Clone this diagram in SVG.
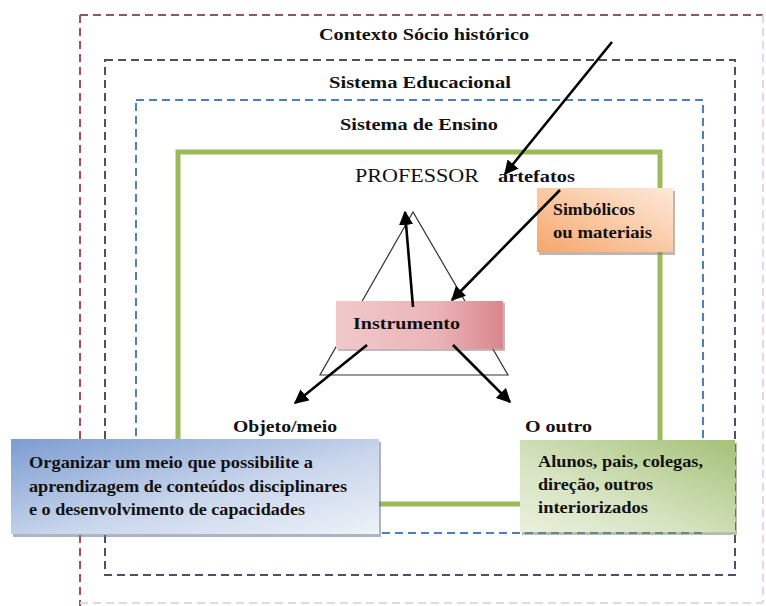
<svg xmlns="http://www.w3.org/2000/svg" width="766" height="606" viewBox="0 0 766 606">
<defs>
<style>
.t{font-family:"Liberation Serif","Times New Roman",serif;fill:#111;}
.b{font-weight:bold;}
.frame{fill:none;stroke-width:2;stroke-dasharray:8 5;}
.arrow{stroke:#000;stroke-width:2.6;fill:none;marker-end:url(#ah);}
.tri{fill:none;stroke:#333;stroke-width:1.2;}
</style>
<marker id="ah" viewBox="0 0 10 10" refX="9" refY="5" markerWidth="5.5" markerHeight="5.5" orient="auto" markerUnits="strokeWidth">
<path d="M0,0 L10,5 L0,10 z" fill="#000"/>
</marker>
<linearGradient id="gBlue" x1="0" y1="0" x2="1" y2="1">
<stop offset="0" stop-color="#7b9cd1"/>
<stop offset="0.55" stop-color="#c8d5eb"/>
<stop offset="1" stop-color="#eef2f9"/>
</linearGradient>
<linearGradient id="gGreen" x1="1" y1="0" x2="0" y2="1">
<stop offset="0" stop-color="#a4c178"/>
<stop offset="0.6" stop-color="#d6e3c0"/>
<stop offset="1" stop-color="#e9f0dc"/>
</linearGradient>
<linearGradient id="gOrange" x1="0" y1="1" x2="1" y2="0">
<stop offset="0" stop-color="#f5a66b"/>
<stop offset="0.6" stop-color="#fbd0b0"/>
<stop offset="1" stop-color="#fde8d8"/>
</linearGradient>
<linearGradient id="gPink" x1="0" y1="0" x2="1" y2="0">
<stop offset="0" stop-color="#f1c9cb"/>
<stop offset="0.6" stop-color="#eab4b8"/>
<stop offset="1" stop-color="#d9868d"/>
</linearGradient>
</defs>

<g id="frames">
<g id="contexto" class="frame">
<line x1="80" y1="15" x2="763" y2="15" stroke="#8a5866"/>
<line x1="80" y1="15" x2="80" y2="606" stroke="#b04a58"/>
<line x1="763" y1="15" x2="763" y2="603" stroke="#f0d4d8"/>
<line x1="80" y1="603" x2="763" y2="603" stroke="#dcdcdc"/>
</g>
<rect id="sistema-educacional" class="frame" x="105" y="60" width="630" height="515" stroke="#4b5068"/>
<rect id="sistema-ensino" class="frame" x="136" y="100" width="567" height="433" stroke="#4f7fb8"/>
<rect id="professor-area" x="178" y="152" width="482" height="352" fill="none" stroke="#9bbb59" stroke-width="5"/>
</g>

<g id="titles">
<text class="t b" x="424" y="40" font-size="17" text-anchor="middle" textLength="210" lengthAdjust="spacingAndGlyphs">Contexto Sócio histórico</text>
<text class="t b" x="420" y="88" font-size="17" text-anchor="middle" textLength="182" lengthAdjust="spacingAndGlyphs">Sistema Educacional</text>
<text class="t b" x="419" y="130" font-size="17" text-anchor="middle" textLength="158" lengthAdjust="spacingAndGlyphs">Sistema de Ensino</text>
</g>

<g id="triangle">
<polygon class="tri" points="413,212 320,375 508,375"/>
</g>

<g id="professor">
<text class="t" x="355" y="182" font-size="18" textLength="124" lengthAdjust="spacingAndGlyphs">PROFESSOR</text>
</g>
<g id="artefatos">
<text class="t b" x="498" y="182" font-size="17" textLength="77" lengthAdjust="spacingAndGlyphs">artefatos</text>
</g>

<g id="simbolicos">
<rect x="539" y="191" width="136" height="64" fill="#8a7a70" opacity="0.55"/>
<rect x="537" y="188" width="136" height="64" fill="url(#gOrange)"/>
<text class="t b" x="553" y="215" font-size="16" textLength="82" lengthAdjust="spacingAndGlyphs">Simbólicos</text>
<text class="t b" x="553" y="238" font-size="16" textLength="99" lengthAdjust="spacingAndGlyphs">ou materiais</text>
</g>

<g id="instrumento">
<rect x="338" y="303" width="167" height="48" fill="#8a7070" opacity="0.5"/>
<rect x="336" y="301" width="167" height="48" fill="url(#gPink)"/>
<text class="t b" x="353" y="329" font-size="17" textLength="107" lengthAdjust="spacingAndGlyphs">Instrumento</text>
</g>

<g id="objeto">
<text class="t b" x="233" y="432" font-size="17" textLength="104" lengthAdjust="spacingAndGlyphs">Objeto/meio</text>
</g>
<g id="outro">
<text class="t b" x="525" y="432" font-size="17" textLength="67" lengthAdjust="spacingAndGlyphs">O outro</text>
</g>

<g id="organizar">
<rect x="13" y="442" width="368" height="95" fill="#6b7890" opacity="0.55"/>
<rect x="11" y="439" width="368" height="95" fill="url(#gBlue)"/>
<text class="t b" x="29" y="468" font-size="17" textLength="284" lengthAdjust="spacingAndGlyphs">Organizar um meio que possibilite a</text>
<text class="t b" x="29" y="492" font-size="17" textLength="318" lengthAdjust="spacingAndGlyphs">aprendizagem de conteúdos disciplinares</text>
<text class="t b" x="29" y="515" font-size="17" textLength="276" lengthAdjust="spacingAndGlyphs">e o desenvolvimento de capacidades</text>
</g>

<g id="alunos">
<rect x="522" y="443" width="215" height="92" fill="#7a8a6a" opacity="0.55"/>
<rect x="520" y="440" width="215" height="92" fill="url(#gGreen)"/>
<text class="t b" x="538" y="467" font-size="17" textLength="165" lengthAdjust="spacingAndGlyphs">Alunos, pais, colegas,</text>
<text class="t b" x="538" y="490" font-size="17" textLength="115" lengthAdjust="spacingAndGlyphs">direção, outros</text>
<text class="t b" x="538" y="513" font-size="17" textLength="110" lengthAdjust="spacingAndGlyphs">interiorizados</text>
</g>

<g id="connectors">
<line class="arrow" x1="612" y1="42" x2="505" y2="174"/>
<line class="arrow" x1="560" y1="190" x2="452" y2="300"/>
<line class="arrow" x1="413" y1="307" x2="405" y2="212"/>
<line class="arrow" x1="367" y1="345" x2="295" y2="403"/>
<line class="arrow" x1="453" y1="345" x2="510" y2="402"/>
</g>
</svg>
